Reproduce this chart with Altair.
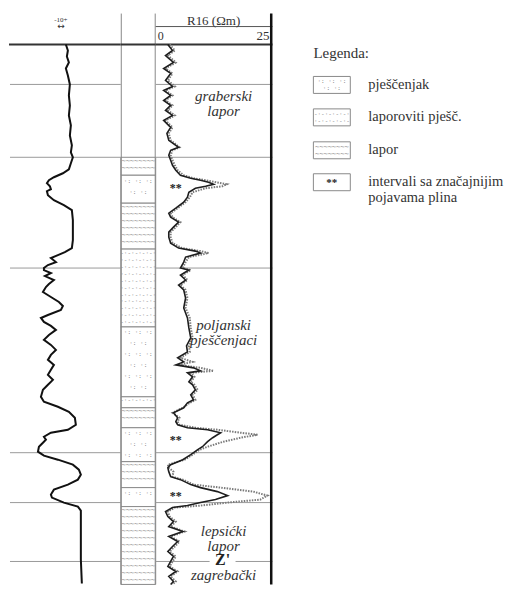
import altair as alt
import pandas as pd

# ---------------- data (depth in relative log units, 0 = top of log) ----------------
sp_depth = [0, 6, 12, 18, 24, 31, 40, 51, 61, 71, 81, 91, 101, 108, 113, 119, 125, 129, 133, 136,
            139, 142, 145, 147, 151, 156, 161, 166, 176, 186, 196, 204, 208, 211, 214, 218, 221, 224,
            226, 229, 232, 236, 240, 243, 248, 253, 258, 262, 266, 271, 274, 278, 282, 286, 291, 296,
            301, 306, 311, 316, 321, 326, 331, 336, 341, 346, 353, 358, 363, 368, 374, 381, 386, 389,
            393, 396, 399, 403, 408, 412, 416, 421, 426, 431, 436, 441, 446, 451, 454, 459, 463, 467,
            486, 516, 540, 552]
sp_value = [57, 59, 58, 60, 57, 59, 61, 60, 61, 60, 62, 61, 63, 62, 64, 62, 60, 54, 45, 40,
            38, 41, 42, 38, 39, 45, 55, 63, 64, 64, 64, 63, 56, 49, 42, 47, 39, 35,
            35, 42, 36, 45, 40, 37, 34, 42, 50, 54, 52, 39, 32, 35, 42, 47, 40, 35,
            42, 47, 42, 39, 45, 42, 39, 44, 39, 34, 32, 35, 49, 60, 66, 67, 59, 42,
            35, 37, 34, 30, 29, 35, 49, 64, 70, 72, 69, 59, 45, 42, 43, 55, 69, 72,
            72, 72, 73, 73]

res_depth = [0, 6, 11, 18, 24, 29, 36, 42, 46, 51, 56, 61, 66, 71, 76, 83, 89, 96, 103, 106,
             111, 116, 121, 126, 131, 134, 136, 138, 140, 142, 144, 148, 153, 158, 164, 169, 173,
             178, 183, 188, 193, 199, 204, 207, 209, 213, 218, 224, 226, 231, 236, 241, 246, 254,
             264, 274, 284, 294, 302, 308, 314, 318, 321, 324, 327, 329, 333, 338, 341, 346, 351,
             356, 359, 364, 369, 374, 378, 381, 384, 386, 389, 391, 394, 398, 403, 406, 411, 416,
             421, 424, 428, 433, 436, 441, 444, 448, 452, 456, 459, 462, 464, 468, 473, 478, 483,
             488, 493, 498, 503, 508, 513, 518, 523, 528, 533, 538, 541, 548]
r16_solid = [2.6, 3.6, 2.1, 3.8, 1.7, 3.2, 2.1, 3.6, 1.7, 3.2, 1.7, 3.2, 2.1, 3.6, 1.7, 3.2, 2.4, 2.8, 4.9, 3.2,
             2.8, 3.2, 3.6, 4.3, 5.3, 7.5, 9.6, 11.3, 12.4, 10.7, 8.5, 7.1, 6.8, 6.0, 4.3, 2.8, 3.2,
             4.9, 3.8, 2.8, 2.8, 3.2, 4.9, 8.5, 9.6, 6.4, 6.0, 5.3, 7.1, 5.3, 6.4, 4.9, 6.0, 6.4,
             6.0, 6.8, 7.1, 7.5, 6.6, 6.8, 4.7, 6.0, 4.3, 8.1, 9.6, 6.8, 7.9, 7.1, 7.9, 8.5, 7.5,
             8.1, 6.8, 6.0, 3.8, 4.7, 4.3, 4.7, 6.8, 11.1, 13.9, 13.2, 12.2, 11.1, 10.0, 9.0, 7.5, 5.8,
             3.2, 2.6, 2.8, 3.2, 5.3, 7.5, 9.6, 13.2, 15.4, 12.8, 9.6, 6.8, 3.6, 2.1, 2.6, 3.8, 2.8,
             5.8, 2.8, 4.7, 3.6, 2.6, 3.8, 3.2, 2.6, 4.3, 2.8, 3.8, 3.2, 3.6]
r16_dotted = [3.0, 4.1, 2.6, 4.3, 2.1, 3.6, 2.6, 4.1, 2.1, 3.6, 2.1, 3.6, 2.6, 4.1, 2.1, 3.6, 2.8, 3.2, 5.1, 3.6,
              3.2, 3.6, 4.1, 4.7, 6.0, 8.1, 10.7, 13.0, 15.2, 14.3, 10.7, 7.9, 7.3, 6.4, 4.7, 3.2, 3.6,
              5.3, 4.3, 3.2, 3.2, 3.6, 5.6, 9.6, 11.3, 7.1, 6.4, 5.8, 7.5, 5.8, 6.8, 5.3, 6.4, 6.8,
              6.4, 7.3, 7.5, 7.9, 7.1, 7.3, 5.3, 7.9, 4.9, 9.6, 12.4, 7.5, 8.3, 7.5, 8.3, 9.0, 7.9,
              8.5, 7.3, 5.8, 3.6, 5.1, 4.7, 5.1, 8.5, 13.2, 18.2, 21.8, 18.2, 14.5, 11.1, 9.4, 7.9, 6.2,
              2.6, 2.8, 3.8, 3.6, 5.8, 8.1, 13.9, 20.9, 23.9, 22.4, 15.4, 9.6, 4.1, 2.6, 3.0, 4.3, 3.2,
              6.2, 3.2, 5.1, 4.1, 3.0, 4.3, 3.6, 3.0, 4.7, 3.2, 4.3, 3.6, 4.1]

litho_top = [113, 131, 159, 205, 283, 353, 364, 384, 418, 444, 463]
litho_bottom = [131, 159, 205, 283, 353, 364, 384, 418, 444, 463, 552]
litho_type = ["lapor", "pjescenjak", "lapor", "laporoviti", "pjescenjak", "laporoviti",
              "lapor", "pjescenjak", "lapor", "pjescenjak", "lapor"]

gas_depth = [144, 396, 452]
marker_depth = [40, 113, 224, 409, 459, 518]

formation_text = ["graberski", "lapor", "poljanski", "pješčenjaci", "lepsićki", "lapor",
                  "zagrebački", "lapor"]
formation_depth = [52, 67, 281, 296, 487, 503, 532, 547]
boundary_text = ["Z'"]
boundary_depth = [517]

legend_title = "Legenda:"
legend_labels = ["pješčenjak", "laporoviti pješč.", "lapor", "intervali sa značajnijim", "pojavama plina"]

# ---------------- layout ----------------
H = 572
DMAX = H - 31
W1, W2, W3, W4 = 112, 35, 117, 241
HEAD = 31  # pixel position of header line inside a panel
yscale = alt.Scale(domain=[-31, DMAX], reverse=True, nice=False, zero=False)
SERIF = "Liberation Serif, Times New Roman, Times, serif"
MONO = "DejaVu Sans Mono"
GRID = "#9a9a9a"
inside = alt.datum.depth <= DMAX

one = pd.DataFrame({"k": [0]})


def hline(y, x0, x1, color, w):
    return alt.Chart(one).mark_rule(color=color, strokeWidth=w).encode(
        y=alt.value(y), x=alt.value(x0), x2=alt.value(x1))


def vline(x, color, w):
    return alt.Chart(one).mark_rule(color=color, strokeWidth=w, strokeCap="butt").encode(
        x=alt.value(x), y=alt.value(0), y2=alt.value(H))


def label(txt, x, y, size, align="left", font=SERIF, weight="normal", style="normal", color="#333"):
    return alt.Chart(pd.DataFrame({"t": [txt]})).mark_text(
        align=align, baseline="middle", fontSize=size, font=font, fontWeight=weight,
        fontStyle=style, color=color).encode(
        text="t:N", x=alt.value(x), y=alt.value(y))


def grid(x0, x1):
    return alt.Chart(pd.DataFrame({"depth": marker_depth})).mark_rule(
        color=GRID, strokeWidth=1).encode(
        y=alt.Y("depth:Q", scale=yscale, axis=None), x=alt.value(x0), x2=alt.value(x1))


# ---------- track 1: SP ----------
sp_df = pd.DataFrame({"depth": sp_depth, "sp": sp_value})
sp_line = alt.Chart(sp_df).transform_filter(inside).mark_line(color="#111", strokeWidth=2).encode(
    x=alt.X("sp:Q", scale=alt.Scale(domain=[0, W1], nice=False, zero=False), axis=None),
    y=alt.Y("depth:Q", scale=yscale, axis=None),
    order="depth:Q")
p1 = alt.layer(
    grid(1, W1),
    hline(HEAD, 0, W1, "#333", 2),
    label("-10+", 52, 6, 7, align="center"),
    label("↔", 52, 12, 9, align="center", font="DejaVu Sans"),
    sp_line,
).properties(width=W1, height=H)

# ---------- track 2: lithology ----------
PATTERN = {
    "lapor": ("~~~~~~~~", "~~~~~~~~", 7, 7),
    "pjescenjak": (" ·:  ·:  ·:", "   ·:  ·:  ", 11, 6),
    "laporoviti": ("-·-·-·-·-·", "·-·-·-·-·-", 7, 6),
}
rows = []
for t, b, k in zip(litho_top, litho_bottom, litho_type):
    a, c, step, fs = PATTERN[k]
    d, i = t + step / 2, 0
    while d < min(b, DMAX) - 3:
        rows.append({"depth": d, "txt": a if i % 2 == 0 else c, "fs": fs})
        d += step
        i += 1
pat_df = pd.DataFrame(rows)
litho_df = pd.DataFrame({"top": litho_top, "bottom": litho_bottom, "type": litho_type})

litho_rect = alt.Chart(litho_df).transform_calculate(
    bot=f"min(datum.bottom, {DMAX})").mark_rect(fill="white", stroke="#8a8a8a", strokeWidth=1).encode(
    y=alt.Y("top:Q", scale=yscale, axis=None), y2="bot:Q",
    x=alt.value(0), x2=alt.value(W2))
litho_pat = alt.Chart(pat_df).mark_text(font=MONO, color="#858585", clip=True, baseline="middle").encode(
    y=alt.Y("depth:Q", scale=yscale, axis=None), x=alt.value(W2 / 2),
    text="txt:N", size=alt.Size("fs:Q", scale=None, legend=None))
p2 = alt.layer(
    litho_rect, litho_pat,
    vline(0.5, "#888", 1), vline(W2 - 0.5, "#888", 1),
    hline(HEAD, 0, W2, "#333", 2),
).properties(width=W2, height=H)

# ---------- track 3: resistivity ----------
res_df = pd.DataFrame({"depth": res_depth, "solid": r16_solid, "dotted": r16_dotted})
xres = alt.Scale(domain=[0, 25], nice=False, zero=False)
res_dot = alt.Chart(res_df).transform_filter(inside).mark_line(
    color="#7a7a7a", strokeWidth=2, strokeDash=[1.5, 1.2]).encode(
    x=alt.X("dotted:Q", scale=xres, axis=None), y=alt.Y("depth:Q", scale=yscale, axis=None), order="depth:Q")
res_sol = alt.Chart(res_df).transform_filter(inside).mark_line(color="#1e1e1e", strokeWidth=1.6).encode(
    x=alt.X("solid:Q", scale=xres, axis=None), y=alt.Y("depth:Q", scale=yscale, axis=None), order="depth:Q")
gas = alt.Chart(pd.DataFrame({"depth": gas_depth, "t": ["**"] * len(gas_depth)})).mark_text(
    fontSize=12, font=SERIF, fontWeight="bold", color="#222", baseline="middle").encode(
    y=alt.Y("depth:Q", scale=yscale, axis=None), x=alt.value(20), text="t:N")
form = alt.Chart(pd.DataFrame({"depth": formation_depth, "t": formation_text})).mark_text(
    fontSize=15, font=SERIF, fontStyle="italic", color="#333", baseline="middle", clip=True).encode(
    y=alt.Y("depth:Q", scale=yscale, axis=None), x=alt.value(68), text="t:N")
zmask = alt.Chart(one).mark_rect(fill="white").encode(
    x=alt.value(54), x2=alt.value(80), y=alt.value(543), y2=alt.value(555))
bnd = alt.Chart(pd.DataFrame({"depth": boundary_depth, "t": boundary_text})).mark_text(
    fontSize=16, font=SERIF, fontWeight="bold", color="#222", baseline="middle").encode(
    y=alt.Y("depth:Q", scale=yscale, axis=None), x=alt.value(67), text="t:N")
p3 = alt.layer(
    grid(0, W3),
    hline(13, 0, W3, "#555", 1),
    hline(HEAD, 0, W3, "#333", 2),
    label("R16 (Ωm)", 58, 7, 13, align="center"),
    label("0", 2, 22, 12),
    label("25", 114, 22, 13, align="right"),
    res_dot, res_sol, gas, zmask, form, bnd,
    vline(W3 - 1.25, "#111", 2.5),
).properties(width=W3, height=H)

# ---------- legend ----------
BX0, BX1 = 41, 78
centers = [71.5, 104, 137, 169]
leg_layers = [label(legend_title, 41, 40, 15)]
box_pat = [
    [(" ·:  ·:  ·:", 6), ("   ·:  ·:  ", 6)],
    [("-·-·-·-·-·", 6), ("·-·-·-·-·-", 6)],
    [("~~~~~~~~", 7), ("~~~~~~~~", 7)],
]
for i, c in enumerate(centers):
    leg_layers.append(alt.Chart(one).mark_rect(fill="white", stroke="#8a8a8a", strokeWidth=1).encode(
        x=alt.value(BX0), x2=alt.value(BX1), y=alt.value(c - 8.5), y2=alt.value(c + 8.5)))
    if i < 3:
        (s1, f1), (s2, f2) = box_pat[i]
        leg_layers.append(label(s1, (BX0 + BX1) / 2, c - 3.5, f1, align="center", font=MONO, color="#858585"))
        leg_layers.append(label(s2, (BX0 + BX1) / 2, c + 3.5, f2, align="center", font=MONO, color="#858585"))
    else:
        leg_layers.append(label("**", (BX0 + BX1) / 2, c + 1, 11, align="center", weight="bold", color="#222"))
label_y = [72, 104, 137, 169, 185]
for t, y in zip(legend_labels, label_y):
    leg_layers.append(label(t, 96, y, 14.5))
p4 = alt.layer(*leg_layers).properties(width=W4 - 8, height=H)

chart = alt.hconcat(p1, p2, p3, p4, spacing=0, bounds="flush").properties(
    padding={"left": 0, "top": 3, "right": 0, "bottom": 0}
).configure_view(stroke=None).configure_text(font=SERIF)

chart.save("out.html", embed_options={"renderer": "svg", "actions": False})
